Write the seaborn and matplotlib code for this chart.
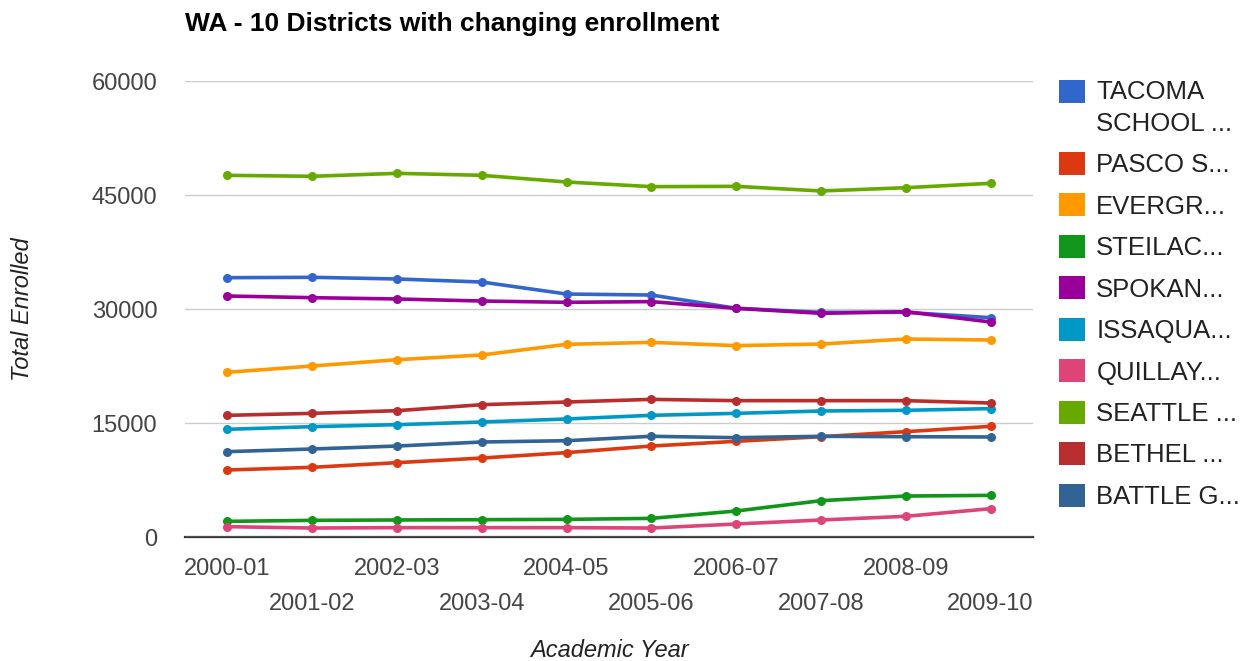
import matplotlib
matplotlib.use("Agg")
import matplotlib.pyplot as plt
import seaborn as sns
import pandas as pd
from matplotlib.patches import Patch

# ---------------- data ----------------
years = ["2000-01", "2001-02", "2002-03", "2003-04", "2004-05",
         "2005-06", "2006-07", "2007-08", "2008-09", "2009-10"]

districts = ["TACOMA SCHOOL ...", "PASCO S...", "EVERGR...", "STEILAC...", "SPOKAN...",
             "ISSAQUA...", "QUILLAY...", "SEATTLE ...", "BETHEL ...", "BATTLE G..."]
legend_labels = ["TACOMA\nSCHOOL ...", "PASCO S...", "EVERGR...", "STEILAC...", "SPOKAN...",
                 "ISSAQUA...", "QUILLAY...", "SEATTLE ...", "BETHEL ...", "BATTLE G..."]

tacoma = [34120, 34170, 33950, 33550, 31970, 31840, 30090, 29560, 29560, 28860]
pasco = [8820, 9170, 9780, 10390, 11100, 11970, 12590, 13200, 13860, 14560]
evergreen = [21670, 22500, 23330, 23950, 25350, 25610, 25180, 25390, 26050, 25920]
steilacoom = [2060, 2190, 2240, 2280, 2320, 2450, 3420, 4780, 5390, 5480]
spokane = [31710, 31490, 31320, 31050, 30880, 30970, 30090, 29430, 29650, 28290]
issaquah = [14170, 14520, 14780, 15130, 15530, 16010, 16270, 16580, 16670, 16890]
quillayute = [1360, 1180, 1230, 1230, 1230, 1180, 1710, 2240, 2720, 3730]
seattle = [47590, 47460, 47850, 47590, 46710, 46100, 46140, 45530, 45960, 46540]
bethel = [16010, 16270, 16620, 17410, 17760, 18110, 17940, 17940, 17940, 17630]
battle_ground = [11230, 11580, 11970, 12500, 12670, 13250, 13070, 13250, 13200, 13160]

series = [tacoma, pasco, evergreen, steilacoom, spokane,
          issaquah, quillayute, seattle, bethel, battle_ground]

colors = ["#3366cc", "#dc3912", "#ff9900", "#109618", "#990099",
          "#0099c6", "#dd4477", "#66aa00", "#b82e2e", "#316395"]

y_ticks = [0, 15000, 30000, 45000, 60000]

title = "WA - 10 Districts with changing enrollment"
x_title = "Academic Year"
y_title = "Total Enrolled"

# ---------------- frame ----------------
rows = []
for name, vals in zip(districts, series):
    for yr, v in zip(years, vals):
        rows.append({"year": yr, "district": name, "enrolled": v})
df = pd.DataFrame(rows)

sns.set_theme(style="white")
plt.rcParams["font.family"] = ["Liberation Sans", "DejaVu Sans"]

W, H = 1252, 661
fig = plt.figure(figsize=(W / 100, H / 100), dpi=100)
L, R, T, B = 185, 1033, 81, 537
ax = fig.add_axes([L / W, 1 - B / H, (R - L) / W, (B - T) / H])

sns.lineplot(data=df, x="year", y="enrolled", hue="district", hue_order=districts,
             palette=colors, marker="o", markersize=6.5, markeredgewidth=0,
             linewidth=2.6, sort=False, legend=False, ax=ax)

ax.set_xlim(-0.5, len(years) - 0.5)
ax.set_ylim(0, 60000)
ax.set_yticks(y_ticks)
ax.set_yticklabels([str(t) for t in y_ticks])
ax.set_xticks(range(len(years)))
ax.set_xticklabels(years)

ax.yaxis.grid(True, color="#cccccc", linewidth=1.0)
ax.xaxis.grid(False)
ax.set_axisbelow(True)
for s in ["top", "left", "right"]:
    ax.spines[s].set_visible(False)
ax.spines["bottom"].set_color("#333333")
ax.spines["bottom"].set_linewidth(1.6)
ax.spines["bottom"].set_zorder(0.5)

ax.tick_params(axis="y", length=0, pad=20, labelsize=17, labelcolor="#444444")
ax.tick_params(axis="x", length=0, pad=15, labelsize=17, labelcolor="#444444")
for i, tick in enumerate(ax.xaxis.get_major_ticks()):
    if i % 2 == 1:
        tick.set_pad(40)

ax.set_xlabel(x_title, fontsize=17, style="italic", color="#222222")
ax.set_ylabel(y_title, fontsize=17, style="italic", color="#222222")
ax.xaxis.set_label_coords(0.5, -0.223)
ax.yaxis.set_label_coords(-0.178, 0.5)

fig.text(L / W, 1 - 12 / H, title, ha="left", va="top", fontsize=19,
         fontweight="bold", color="#000000")

handles = [Patch(facecolor=c, edgecolor="none") for c in colors]
leg = fig.legend(handles, legend_labels, loc="upper left",
                 bbox_to_anchor=(1059 / W, 1 - 80 / H), frameon=False,
                 handlelength=1.0, handleheight=1.0, handletextpad=0.45,
                 labelspacing=0.63, borderpad=0, borderaxespad=0,
                 fontsize=18.5, labelcolor="#222222")
leg.get_texts()[0].set_linespacing(1.4)
try:
    col = leg._legend_handle_box.get_children()[0]
    col.get_children()[0].align = "top"
except Exception:
    pass

fig.savefig("out.png", dpi=100)
